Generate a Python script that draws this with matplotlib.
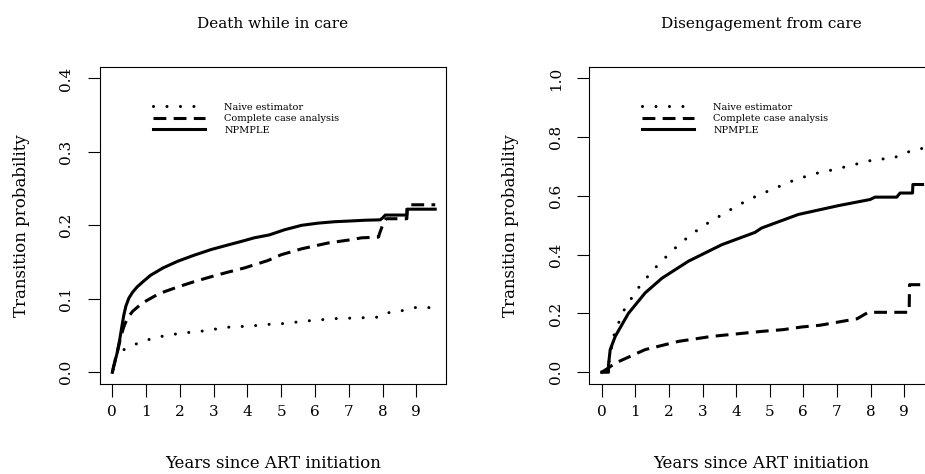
import matplotlib
matplotlib.use("Agg")
import matplotlib.pyplot as plt

plt.rcParams['font.family'] = ['DejaVu Serif']

# Death while in care
death_npmple_t = [0, 0.05, 0.14, 0.22, 0.28, 0.34, 0.4, 0.49, 0.6, 0.73, 0.9, 1.13, 1.5, 1.93,
                  2.4, 2.92, 3.4, 3.81, 4.2, 4.65, 5.1, 5.6, 6.09, 6.6, 7.08, 7.5, 7.93,
                  8.0, 8.08, 8.72, 8.73, 9.56]
death_npmple_p = [0, 0.01, 0.026, 0.045, 0.062, 0.078, 0.09, 0.101, 0.109, 0.116, 0.123, 0.132,
                  0.142, 0.151, 0.159, 0.167, 0.173, 0.178, 0.183, 0.187, 0.194, 0.2,
                  0.203, 0.205, 0.206, 0.207, 0.2075, 0.21, 0.214, 0.214, 0.222, 0.222]

death_cca_t = [0, 0.05, 0.14, 0.26, 0.34, 0.44, 0.6, 0.88, 1.38, 1.93, 2.4, 2.92, 3.4, 3.91,
               4.6, 5.0, 5.6, 6.39, 7.0, 7.38, 7.88, 7.92, 8.0, 8.1, 8.72, 8.73, 9.56]
death_cca_p = [0, 0.01, 0.026, 0.05, 0.062, 0.073, 0.083, 0.094, 0.107, 0.116, 0.123, 0.13,
               0.136, 0.142, 0.152, 0.16, 0.168, 0.176, 0.18, 0.183, 0.184, 0.19, 0.2,
               0.209, 0.209, 0.228, 0.228]

death_naive_t = [0, 0.05, 0.1, 0.2, 0.39, 0.78, 1.18, 1.58, 2.02, 2.44, 2.87, 3.29, 3.71,
                 4.14, 4.55, 5.0, 5.8, 6.59, 7.3, 7.88, 8.0, 8.17, 8.6, 8.97, 9.42, 9.56]
death_naive_p = [0, 0.012, 0.02, 0.027, 0.032, 0.04, 0.046, 0.05, 0.053, 0.055, 0.057, 0.061,
                 0.062, 0.063, 0.065, 0.066, 0.07, 0.073, 0.074, 0.075, 0.079, 0.081, 0.084,
                 0.088, 0.088, 0.089]

# Disengagement from care
dis_npmple_t = [0, 0.2, 0.2, 0.25, 0.4, 0.79, 1.29, 1.79, 2.58, 3.57, 4.56, 4.76, 5.85,
                7.04, 7.99, 8.13, 8.78, 8.88, 9.25, 9.26, 9.55]
dis_npmple_p = [0, 0, 0.026, 0.077, 0.122, 0.2, 0.27, 0.32, 0.378, 0.434, 0.476, 0.491, 0.537,
                0.567, 0.588, 0.596, 0.596, 0.61, 0.61, 0.639, 0.639]

dis_cca_t = [0, 0.2, 0.4, 1.29, 2.28, 3.27, 4.76, 5.4, 5.95, 6.5, 7.0, 7.44, 7.6, 7.93,
             9.15, 9.16, 9.55]
dis_cca_p = [0, 0.015, 0.031, 0.077, 0.105, 0.122, 0.139, 0.145, 0.154, 0.16, 0.17, 0.179,
             0.182, 0.204, 0.204, 0.298, 0.298]

dis_naive_t = [0, 0.2, 0.35, 0.5, 0.67, 0.89, 1.12, 1.39, 1.66, 1.96, 2.26, 2.6, 2.93, 3.27,
               3.64, 4.0, 4.37, 4.74, 5.14, 5.52, 5.9, 6.3, 6.68, 7.07, 7.44, 7.82, 8.18,
               8.61, 8.93, 9.26, 9.55]
dis_naive_p = [0, 0.026, 0.122, 0.168, 0.213, 0.253, 0.292, 0.329, 0.364, 0.398, 0.431, 0.463,
               0.491, 0.516, 0.54, 0.565, 0.587, 0.607, 0.625, 0.645, 0.66, 0.675, 0.684,
               0.694, 0.705, 0.715, 0.726, 0.726, 0.741, 0.756, 0.762]

legend_labels = ['Naive estimator', 'Complete case analysis', 'NPMPLE']
titles = ['Death while in care', 'Disengagement from care']
x_ticks = list(range(10))

fig = plt.figure(figsize=(9.25, 4.74), dpi=100)
ax1 = fig.add_axes([0.1076, 0.1899, 0.3746, 0.6694])
ax2 = fig.add_axes([0.6368, 0.1899, 0.3726, 0.6694])

lw = 2.2
panels = [
    (ax1, death_naive_t, death_naive_p, death_cca_t, death_cca_p,
     death_npmple_t, death_npmple_p, 0.4, [0.0, 0.1, 0.2, 0.3, 0.4]),
    (ax2, dis_naive_t, dis_naive_p, dis_cca_t, dis_cca_p,
     dis_npmple_t, dis_npmple_p, 1.0, [0.0, 0.2, 0.4, 0.6, 0.8, 1.0]),
]

for i, (ax, nt, npv, ct, cp, st, sp, ymax, yticks) in enumerate(panels):
    ax.plot(nt, npv, color='black', lw=lw, linestyle=(0, (0.01, 4.4)),
            dash_capstyle='round', label=legend_labels[0])
    ax.plot(ct, cp, color='black', lw=lw, linestyle=(0, (4.2, 2.4)),
            dash_capstyle='butt', solid_joinstyle='round', label=legend_labels[1])
    ax.plot(st, sp, color='black', lw=lw, solid_joinstyle='round', label=legend_labels[2])

    ax.set_xlim(-0.38, 9.88)
    ax.set_ylim(-0.04 * ymax, ymax * 1.04)
    ax.set_xticks(x_ticks)
    ax.set_yticks(yticks)
    ax.set_yticklabels([f'{v:.1f}' for v in yticks], rotation=90, va='center')
    ax.tick_params(direction='out', length=9, width=0.8, labelsize=11, pad=10)
    ax.tick_params(axis='x', pad=6)
    for s in ax.spines.values():
        s.set_linewidth(0.8)

    ax.set_title(titles[i], fontsize=11, pad=28)
    ax.set_xlabel('Years since ART initiation', fontsize=12, labelpad=26)
    ax.set_ylabel('Transition probability', fontsize=12, labelpad=21)

    ax.legend(loc='upper left', bbox_to_anchor=(0.155, 0.886), frameon=False,
              fontsize=7, handlelength=5.3, handletextpad=2.0, labelspacing=0.25,
              borderpad=0, borderaxespad=0)

fig.savefig('out.png', dpi=100)
